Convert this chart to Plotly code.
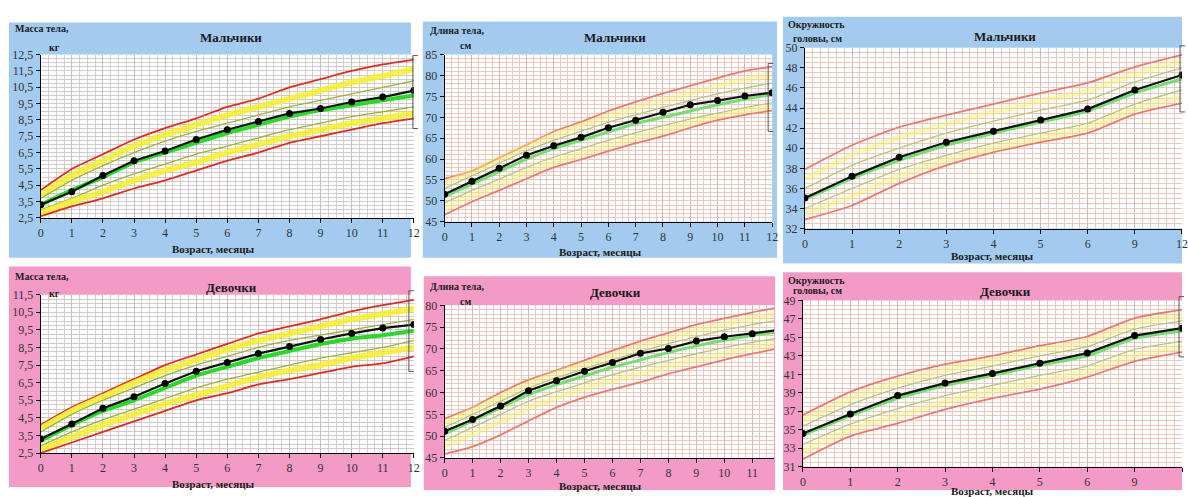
import plotly.graph_objects as go

W, H = 1188, 497

# ---------------- data ----------------
months = list(range(13))
head_months = [0, 1, 2, 3, 4, 5, 6, 9, 12]
head_idx = list(range(len(head_months)))

# Boys weight, kg
bw_red_hi = [4.2, 5.5, 6.4, 7.3, 8.0, 8.6, 9.3, 9.8, 10.5, 11.0, 11.5, 11.9, 12.2]
bw_yel_hi = [3.9, 5.1, 6.0, 6.9, 7.6, 8.2, 8.8, 9.3, 9.8, 10.3, 10.8, 11.2, 11.6]
bw_olv_hi = [3.7, 4.8, 5.7, 6.5, 7.2, 7.8, 8.3, 8.8, 9.3, 9.7, 10.1, 10.5, 10.9]
bw_median = [3.3, 4.2, 5.0, 5.9, 6.5, 7.1, 7.7, 8.2, 8.7, 9.1, 9.4, 9.7, 10.0]
bw_olv_lo = [3.0, 3.7, 4.5, 5.2, 5.8, 6.4, 6.9, 7.4, 7.9, 8.3, 8.7, 9.0, 9.3]
bw_yel_lo = [2.8, 3.5, 4.1, 4.8, 5.4, 5.9, 6.5, 7.0, 7.5, 7.9, 8.3, 8.6, 8.9]
bw_red_lo = [2.6, 3.2, 3.7, 4.3, 4.8, 5.4, 6.0, 6.5, 7.1, 7.5, 7.9, 8.3, 8.6]
bw_child = [3.3, 4.1, 5.1, 6.0, 6.6, 7.3, 7.9, 8.4, 8.9, 9.2, 9.6, 9.9, 10.3]

# Boys length, cm
bl_red_hi = [55.3, 57.2, 60.3, 63.4, 66.6, 68.9, 71.5, 73.7, 75.7, 77.5, 79.4, 81.1, 82.1]
bl_yel_hi = [54.2, 57.0, 60.0, 63.0, 65.7, 68.0, 70.2, 72.2, 74.0, 75.8, 77.5, 79.0, 80.2]
bl_olv_hi = [53.0, 56.0, 59.0, 62.0, 64.5, 66.7, 68.8, 70.6, 72.4, 74.0, 75.6, 77.0, 78.2]
bl_median = [51.0, 54.0, 57.0, 60.0, 62.5, 64.5, 66.5, 68.5, 70.0, 71.5, 73.0, 74.3, 75.5]
bl_olv_lo = [49.5, 52.5, 55.2, 58.0, 60.5, 62.5, 64.5, 66.3, 68.0, 69.6, 71.0, 72.3, 73.5]
bl_yel_lo = [48.2, 51.2, 53.9, 56.7, 59.2, 61.2, 63.2, 65.0, 66.8, 68.5, 70.1, 71.5, 72.5]
bl_red_lo = [46.7, 49.8, 52.5, 55.3, 58.0, 59.9, 61.9, 63.8, 65.5, 67.5, 69.3, 70.6, 71.6]
bl_child = [51.6, 54.7, 57.8, 60.9, 63.2, 65.2, 67.5, 69.3, 71.2, 73.0, 74.0, 75.1, 75.9]

# Boys head circumference, cm
bh_red_hi = [37.9, 40.3, 42.1, 43.3, 44.4, 45.5, 46.5, 48.1, 49.3]
bh_yel_hi = [36.9, 39.3, 41.1, 42.4, 43.6, 44.7, 45.7, 47.4, 48.7]
bh_olv_hi = [36.0, 38.3, 40.0, 41.5, 42.7, 43.8, 44.8, 46.6, 48.0]
bh_median = [34.9, 37.0, 38.8, 40.3, 41.5, 42.6, 43.7, 45.5, 46.9]
bh_olv_lo = [34.0, 36.0, 37.9, 39.3, 40.5, 41.5, 42.5, 44.4, 45.8]
bh_yel_lo = [33.5, 35.2, 37.2, 38.8, 40.0, 41.0, 42.0, 43.9, 45.1]
bh_red_lo = [32.9, 34.3, 36.5, 38.3, 39.6, 40.6, 41.5, 43.4, 44.5]
bh_child = [35.05, 37.2, 39.1, 40.6, 41.7, 42.8, 43.9, 45.8, 47.3]

# Girls weight, kg
gw_red_hi = [4.1, 5.1, 5.9, 6.7, 7.5, 8.1, 8.7, 9.3, 9.7, 10.1, 10.55, 10.9, 11.2]
gw_yel_hi = [3.9, 4.9, 5.7, 6.5, 7.2, 7.8, 8.4, 8.9, 9.3, 9.7, 10.1, 10.4, 10.7]
gw_olv_hi = [3.7, 4.7, 5.5, 6.2, 6.9, 7.5, 8.0, 8.5, 8.9, 9.2, 9.5, 9.8, 10.1]
gw_median = [3.2, 4.1, 4.9, 5.5, 6.2, 6.9, 7.4, 7.9, 8.3, 8.7, 9.0, 9.2, 9.45]
gw_olv_lo = [2.9, 3.7, 4.4, 5.0, 5.6, 6.2, 6.7, 7.1, 7.5, 7.9, 8.2, 8.5, 8.9]
gw_yel_lo = [2.7, 3.4, 4.1, 4.7, 5.3, 5.8, 6.3, 6.8, 7.2, 7.5, 7.9, 8.2, 8.5]
gw_red_lo = [2.5, 3.1, 3.7, 4.3, 4.9, 5.5, 5.9, 6.4, 6.7, 7.05, 7.4, 7.6, 8.0]
gw_child = [3.3, 4.15, 5.05, 5.7, 6.45, 7.15, 7.65, 8.15, 8.55, 8.95, 9.3, 9.6, 9.8]

# Girls length, cm
gl_red_hi = [54.0, 56.6, 60.0, 62.9, 65.1, 67.4, 69.6, 71.8, 73.7, 75.6, 77.0, 78.4, 79.6]
gl_yel_hi = [53.0, 56.0, 59.0, 62.0, 64.4, 66.5, 68.6, 70.6, 72.5, 74.2, 75.7, 77.0, 78.1]
gl_olv_hi = [52.0, 55.0, 58.0, 61.0, 63.4, 65.5, 67.5, 69.4, 71.2, 72.8, 74.3, 75.6, 76.7]
gl_median = [50.5, 53.5, 56.5, 59.5, 61.8, 63.8, 65.8, 67.5, 69.2, 70.7, 72.0, 73.1, 74.0]
gl_olv_lo = [49.0, 52.0, 55.0, 58.0, 60.2, 62.2, 64.1, 65.8, 67.4, 68.9, 70.3, 71.5, 72.6]
gl_yel_lo = [47.8, 50.5, 53.3, 56.3, 58.8, 60.9, 62.7, 64.3, 66.0, 67.5, 68.9, 70.2, 71.4]
gl_red_lo = [45.9, 47.6, 50.3, 53.5, 56.6, 58.9, 60.7, 62.4, 64.3, 65.9, 67.5, 68.9, 70.2]
gl_child = [51.1, 53.8, 56.9, 60.4, 62.7, 64.9, 66.9, 69.0, 70.1, 71.8, 72.8, 73.5, 74.4]

# Girls head circumference, cm
gh_red_hi = [36.6, 39.1, 40.8, 42.1, 43.0, 44.1, 45.1, 47.1, 48.0]
gh_yel_hi = [36.0, 38.4, 40.1, 41.5, 42.5, 43.6, 44.6, 46.5, 47.4]
gh_olv_hi = [35.4, 37.7, 39.5, 40.9, 41.9, 43.0, 44.0, 45.9, 46.8]
gh_median = [34.4, 36.5, 38.4, 39.8, 40.9, 42.0, 43.0, 44.9, 45.7]
gh_olv_lo = [33.4, 35.6, 37.3, 38.7, 39.8, 40.9, 41.9, 43.7, 44.6]
gh_yel_lo = [32.6, 35.0, 36.5, 38.0, 39.1, 40.2, 41.3, 43.0, 44.0]
gh_red_lo = [31.8, 34.3, 35.7, 37.2, 38.4, 39.4, 40.7, 42.4, 43.4]
gh_child = [34.6, 36.7, 38.7, 40.05, 41.1, 42.2, 43.3, 45.2, 46.0]

titles = ["Мальчики", "Мальчики", "Мальчики", "Девочки", "Девочки", "Девочки"]
ylab1 = ["Масса тела,", "Длина тела,", "Окружность", "Масса тела,", "Длина тела,", "Окружность"]
ylab2 = ["кг", "см", "головы, см", "кг", "см", "головы, см"]
xlab = "Возраст, месяцы"

# ---------------- layout helpers ----------------
def fx(p):
    return p / W

def fy(p):
    return 1 - p / H

BLUE = "#a3cbf0"
PINK = "#f39ac6"

panels = [
    dict(x=months, lines=[bw_red_hi, bw_yel_hi, bw_olv_hi, bw_median, bw_olv_lo, bw_yel_lo, bw_red_lo], child=bw_child,
         bg=BLUE, box=(6, 16, 411, 258), dom=(38, 414, 49, 217), xr=[0, 12], yr=[2.5, 12.5], t0=2.5, dt=1,
         ymin=0.25, xmin=0.25, fmt=".1f", vivid=True, head=False,
         title=(230, 31), yl1=(10, 22), yl2=(44, 42), xl=(212, 249)),
    dict(x=months, lines=[bl_red_hi, bl_yel_hi, bl_olv_hi, bl_median, bl_olv_lo, bl_yel_lo, bl_red_lo], child=bl_child,
         bg=BLUE, box=(423, 15, 780, 258), dom=(445, 775, 49, 221), xr=[0, 12], yr=[45, 85], t0=45, dt=5,
         ymin=1, xmin=0.25, fmt="d", vivid=False, head=False,
         title=(617, 31), yl1=(428, 24), yl2=(458, 40), xl=(602, 252)),
    dict(x=head_idx, lines=[bh_red_hi, bh_yel_hi, bh_olv_hi, bh_median, bh_olv_lo, bh_yel_lo, bh_red_lo], child=bh_child,
         bg=BLUE, box=(786, 10, 1188, 264), dom=(808, 1188, 42, 228), xr=[0, 8], yr=[32, 50], t0=32, dt=2,
         ymin=0.5, xmin=1 / 6, fmt="d", vivid=False, head=True,
         title=(1010, 30), yl1=(789, 18), yl2=(794, 32), xl=(997, 256)),
    dict(x=months, lines=[gw_red_hi, gw_yel_hi, gw_olv_hi, gw_median, gw_olv_lo, gw_yel_lo, gw_red_lo], child=gw_child,
         bg=PINK, box=(6, 267, 411, 494), dom=(38, 414, 296, 459), xr=[0, 12], yr=[2.5, 11.5], t0=2.5, dt=1,
         ymin=0.25, xmin=0.25, fmt=".1f", vivid=True, head=False,
         title=(230, 289), yl1=(10, 277), yl2=(44, 295), xl=(212, 491)),
    dict(x=months, lines=[gl_red_hi, gl_yel_hi, gl_olv_hi, gl_median, gl_olv_lo, gl_yel_lo, gl_red_lo], child=gl_child,
         bg=PINK, box=(424, 277, 778, 497), dom=(445, 777, 307, 464), xr=[0, 11.78], yr=[45, 80], t0=45, dt=5,
         ymin=1, xmin=0.25, fmt="d", vivid=False, head=False,
         title=(617, 294), yl1=(428, 288), yl2=(458, 303), xl=(602, 493)),
    dict(x=head_idx, lines=[gh_red_hi, gh_yel_hi, gh_olv_hi, gh_median, gh_olv_lo, gh_yel_lo, gh_red_lo], child=gh_child,
         bg=PINK, box=(786, 273, 1188, 497), dom=(806, 1188, 302, 473), xr=[0, 8], yr=[31, 49], t0=31, dt=2,
         ymin=0.5, xmin=1 / 6, fmt="d", vivid=False, head=True,
         title=(1010, 293), yl1=(789, 281), yl2=(794, 292), xl=(997, 498)),
]

fig = go.Figure()
bg_shapes, white_shapes, top_shapes = [], [], []
annotations = []
FONT = "Liberation Serif"

for i, p in enumerate(panels):
    n = "" if i == 0 else str(i + 1)
    xa, ya = "x" + n, "y" + n
    if p["vivid"]:
        red, yel, olv, grn = "#e8281e", "rgba(246,238,40,0.85)", "#9cb43a", "#22dd22"
        wy, wg = 6, 4
    else:
        red, yel, olv, grn = "#f0786a", "rgba(250,238,110,0.45)", "#b8c870", "#70e070"
        wy, wg = 6, 3
    styles = [(red, 1.8), (yel, wy), (olv, 1.3), (grn, wg), (olv, 1.3), (yel, wy), (red, 1.8)]
    for vals, (c, w) in zip(p["lines"], styles):
        fig.add_trace(go.Scatter(x=p["x"], y=vals, mode="lines", line=dict(color=c, width=w, shape="spline", smoothing=0.6),
                                 xaxis=xa, yaxis=ya, showlegend=False, hoverinfo="skip"))
    fig.add_trace(go.Scatter(x=p["x"], y=p["child"], mode="lines+markers",
                             line=dict(color="#101010", width=2.2), marker=dict(color="#000", size=7),
                             xaxis=xa, yaxis=ya, showlegend=False))

    x0, x1, y0, y1 = p["dom"]
    tickfont = dict(family=FONT, size=12, color="#333")
    minor_common = dict(showgrid=True, ticks="", gridwidth=1)
    xax = dict(domain=[fx(x0), fx(x1)], range=p["xr"], anchor=ya, showline=True, linecolor="#000", linewidth=1,
               ticks="outside", ticklen=4, tickcolor="#000", tickfont=tickfont, showgrid=True,
               gridcolor="#c4bebe", zeroline=False, fixedrange=True,
               minor=dict(tickmode="linear", tick0=0, dtick=p["xmin"], gridcolor="#d4cece", **minor_common))
    if p["head"]:
        xax.update(tickmode="array", tickvals=head_idx, ticktext=[str(m) for m in head_months])
    else:
        xax.update(tickmode="linear", tick0=0, dtick=1)
    hcol = "#d2caca" if p["vivid"] else "#efc6b8"
    yax = dict(domain=[fy(y1), fy(y0)], range=p["yr"], anchor=xa, showline=True, linecolor="#000", linewidth=1,
               ticks="outside", ticklen=4, tickcolor="#000", tickfont=tickfont, tickmode="linear",
               tick0=p["t0"], dtick=p["dt"], tickformat=p["fmt"], showgrid=True, gridcolor=hcol,
               zeroline=False, fixedrange=True,
               minor=dict(tickmode="linear", tick0=p["t0"], dtick=p["ymin"], gridcolor=hcol, **minor_common))
    fig.layout["xaxis" + n] = xax
    fig.layout["yaxis" + n] = yax

    bx0, by0, bx1, by1 = p["box"]
    bg_shapes.append(dict(type="rect", xref="paper", yref="paper", x0=fx(bx0), x1=fx(bx1), y0=fy(by1), y1=fy(by0),
                          fillcolor=p["bg"], line=dict(width=0), layer="below"))
    white_shapes.append(dict(type="rect", xref="paper", yref="paper", x0=fx(x0), x1=fx(x1), y0=fy(y1), y1=fy(y0),
                             fillcolor="white", line=dict(width=0), layer="below"))

    tf = dict(family=FONT, size=13, color="#1a1a1a")
    sf = dict(family=FONT, size=10, color="#1a1a1a")
    common = dict(xref="paper", yref="paper", showarrow=False, yanchor="middle")
    annotations.append(dict(text="<b>" + titles[i] + "</b>", x=fx(p["title"][0]), y=fy(p["title"][1]),
                            xanchor="center", font=tf, **common))
    annotations.append(dict(text="<b>" + ylab1[i] + "</b>", x=fx(p["yl1"][0]), y=fy(p["yl1"][1]), xanchor="left",
                            font=sf, **common))
    annotations.append(dict(text="<b>" + ylab2[i] + "</b>", x=fx(p["yl2"][0]), y=fy(p["yl2"][1]), xanchor="left",
                            font=sf, **common))
    annotations.append(dict(text="<b>" + xlab + "</b>", x=fx(p["xl"][0]), y=fy(p["xl"][1]), xanchor="center",
                            font=dict(family=FONT, size=11, color="#1a1a1a"), **common))

# remnants of legend boxes at the right edges
for (bx, bt, bb) in [(413, 50, 125), (771, 58, 128), (1186, 40, 108), (409, 292, 375), (1185, 298, 360)]:
    top_shapes.append(dict(type="path", xref="paper", yref="paper",
                           path=f"M {fx(bx + 5)} {fy(bt)} L {fx(bx)} {fy(bt)} L {fx(bx)} {fy(bb)} L {fx(bx + 5)} {fy(bb)}",
                           line=dict(color="#555", width=1), layer="above"))

fig.update_layout(width=W, height=H, margin=dict(l=0, r=0, t=0, b=0), paper_bgcolor="white",
                  plot_bgcolor="white", separators=", ", shapes=bg_shapes + white_shapes + top_shapes,
                  annotations=annotations, showlegend=False)

fig.write_html("out.html")
